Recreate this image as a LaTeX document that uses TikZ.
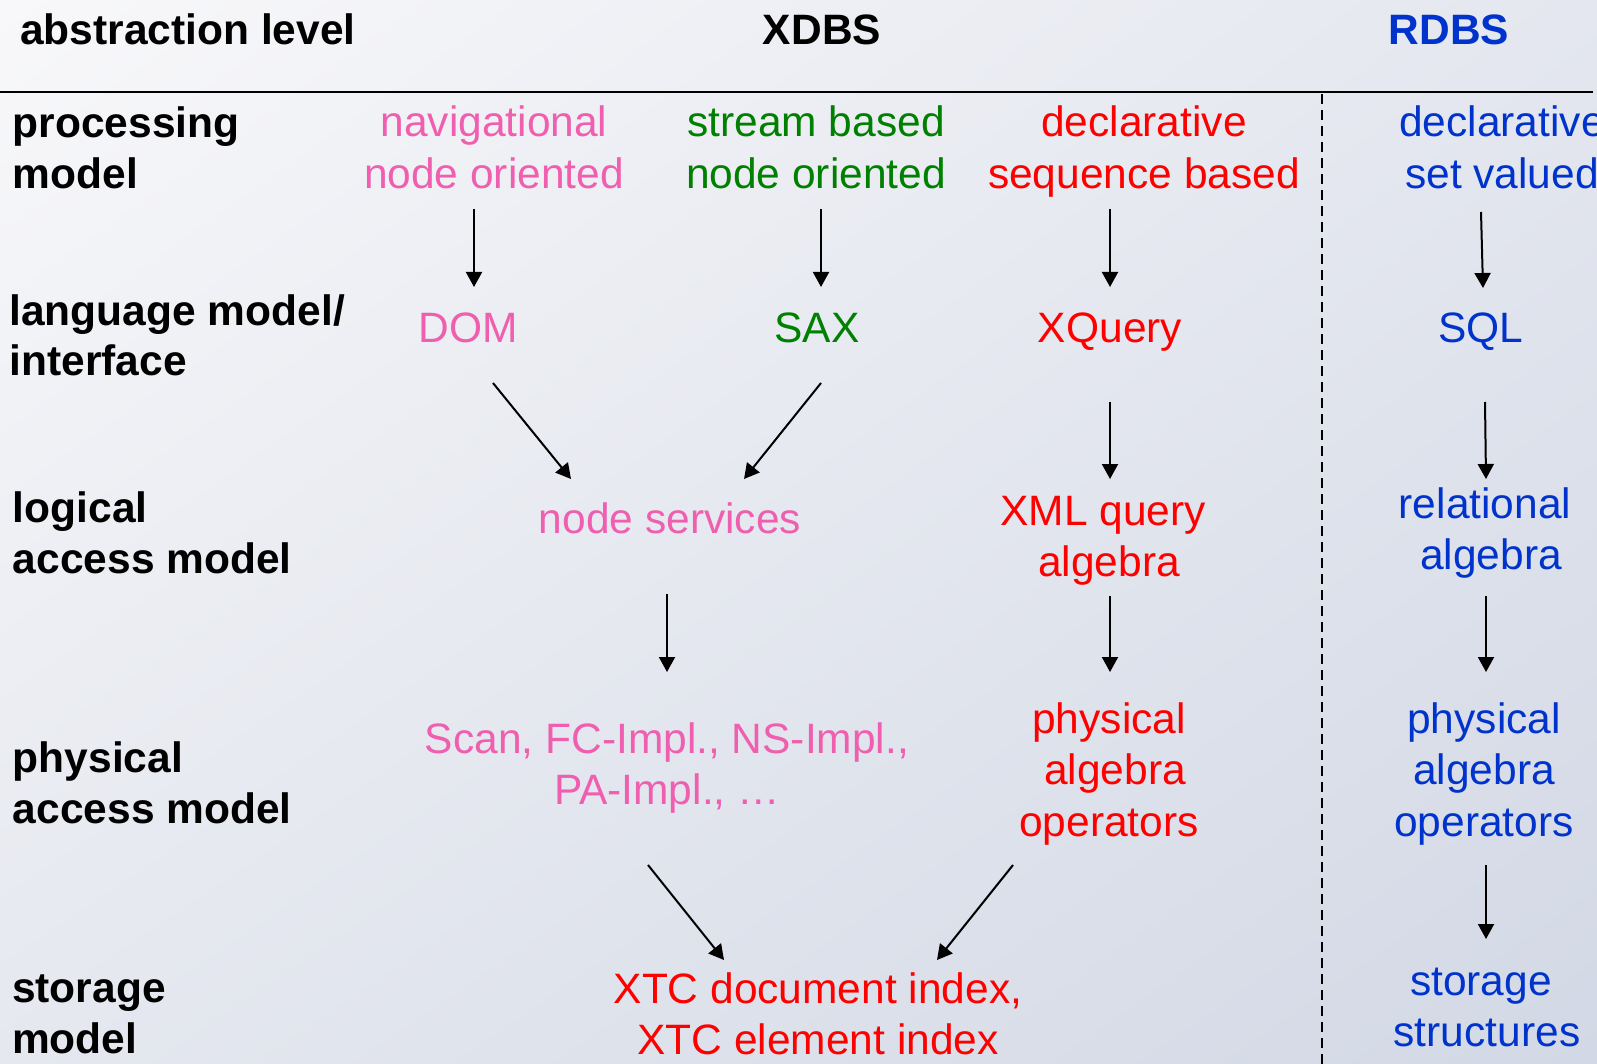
\documentclass[tikz,border=0pt]{standalone}
\usepackage{fontspec}
\setmainfont{Liberation Sans}
\usetikzlibrary{arrows.meta,calc,shadings}

\definecolor{navpink}{RGB}{240,95,175}
\definecolor{streamgreen}{RGB}{0,128,0}
\definecolor{declred}{RGB}{255,0,0}
\definecolor{relblue}{RGB}{0,51,204}
\definecolor{bgA}{HTML}{F8F8FA}
\definecolor{bgB}{HTML}{E4E7EF}
\definecolor{bgC}{HTML}{E5E8EF}
\definecolor{bgD}{HTML}{D2D8E5}

% multi-line nodes are placed by the baseline of their last line
\tikzset{
  txt/.style={inner sep=0pt, anchor=base, align=center,
    font=\fontsize{42.5}{51.5}\selectfont},
  lbl/.style={inner sep=0pt, anchor=base west, align=left,
    font=\fontsize{42.5}{51}\selectfont\bfseries},
  head/.style={inner sep=0pt, anchor=base,
    font=\fontsize{42.5}{51}\selectfont\bfseries},
  arr/.style={line width=2pt, -{Triangle[length=15pt,width=16pt]}},
}

\begin{document}
\begin{tikzpicture}[x=1pt,y=-1pt]
  % background
  \shade[upper left=bgA, upper right=bgB, lower left=bgC, lower right=bgD]
    (0,0) rectangle (1597,1064);
  \useasboundingbox (0,0) rectangle (1597,1064);

  % header row and separators
  \node[lbl] (hlevel) at (20,44.5) {abstraction level};
  \node[head] (hxdbs) at (822,44.5) {XDBS};
  \node[head, text=relblue] (hrdbs) at (1449,44.5) {RDBS};
  \draw[line width=2pt] (0,92) -- (1593,92);
  \draw[line width=1.8pt, dash pattern=on 10pt off 6pt] (1322,94) -- (1322,1064);

  % abstraction levels
  \node[lbl] (lproc) at (12.7,188.5) {processing\\model};
  \node[lbl, font=\fontsize{42.5}{50}\selectfont\bfseries] (llang) at (9.3,375) {language model/\\interface};
  \node[lbl] (llog) at (12.7,573.5) {logical\\access model};
  \node[lbl] (lphys) at (12.7,823.5) {physical\\access model};
  \node[lbl] (lstor) at (12,1053.5) {storage\\model};

  % processing models
  \node[txt, text=navpink] (nav) at (494,188.5) {navigational\\node oriented};
  \node[txt, text=streamgreen] (stream) at (816,188.5) {stream based\\node oriented};
  \node[txt, text=declred] (declr) at (1144,188.5) {declarative\\sequence based};
  \node[txt, text=relblue] (declb) at (1502,188.5) {declarative\\set valued};

  % language models / interfaces
  \node[txt, text=navpink] (dom) at (468,342) {DOM};
  \node[txt, text=streamgreen] (sax) at (817,342) {SAX};
  \node[txt, text=declred] (xquery) at (1110,342) {XQuery};
  \node[txt, text=relblue] (sql) at (1481,342) {SQL};

  % logical access models
  \node[txt, text=navpink] (nodeserv) at (670,533) {node services};
  \node[txt, text=declred] (xmlq) at (1109,576.5) {XML query\kern12pt\\algebra};
  \node[txt, text=relblue] (relb) at (1491,569.5) {relational\kern12pt\\algebra};

  % physical access models
  \node[txt, text=navpink] (scan) at (667,804.5) {Scan, FC-Impl., NS-Impl.,\\PA-Impl., \ldots};
  \node[txt, text=declred] (physr) at (1109,836) {physical\\\kern12pt algebra\\operators};
  \node[txt, text=relblue] (physb) at (1484,836) {physical\\algebra\\operators};

  % storage models
  \node[txt, text=declred] (xtc) at (818,1054.5) {XTC document index,\\XTC element index};
  \node[txt, text=relblue] (storb) at (1487,1046.5) {storage\kern12pt\\structures};

  % refinement arrows
  \draw[arr] ($(nav.base)+(-20,20.5)$) -- ($(dom.base)+(6,-55)$);
  \draw[arr] ($(stream.base)+(5,20.5)$) -- ($(sax.base)+(4,-55)$);
  \draw[arr] ($(declr.base)+(-34,20.5)$) -- ($(xquery.base)+(0,-55)$);
  \draw[arr] ($(declb.base)+(-21,23.5)$) -- ($(sql.base)+(2,-54)$);

  \draw[arr] ($(dom.base)+(25,41)$) -- ($(nodeserv.base)+(-99,-54)$);
  \draw[arr] ($(sax.base)+(4,41)$) -- ($(nodeserv.base)+(74,-54)$);
  \draw[arr] ($(xquery.base)+(0,60)$) -- ($(xmlq.base)+(1,-97.5)$);
  \draw[arr] ($(sql.base)+(4,60)$) -- ($(relb.base)+(-5,-90.5)$);

  \draw[arr] ($(nodeserv.base)+(-3,61)$) -- ($(scan.base)+(0,-132.5)$);
  \draw[arr] ($(xmlq.base)+(1,19.5)$) -- ($(physr.base)+(1,-164)$);
  \draw[arr] ($(relb.base)+(-5,26.5)$) -- ($(physb.base)+(2,-164)$);

  \draw[arr] ($(scan.base)+(-19,60.5)$) -- ($(xtc.base)+(-94,-94.5)$);
  \draw[arr] ($(physr.base)+(-96,29)$) -- ($(xtc.base)+(119,-94.5)$);
  \draw[arr] ($(physb.base)+(2,29)$) -- ($(storb.base)+(-1,-107.5)$);
\end{tikzpicture}
\end{document}
